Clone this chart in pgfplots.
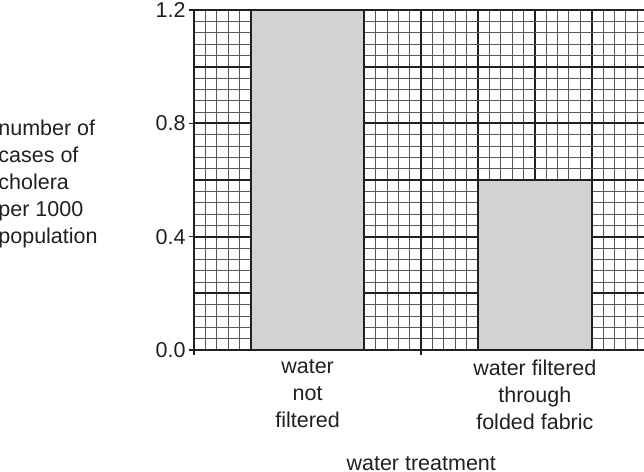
\documentclass[border=0pt]{standalone}
\usepackage{fontspec}
\setmainfont{Liberation Sans}
\usepackage{pgfplots}
\pgfplotsset{compat=1.18}
\definecolor{barfill}{HTML}{D1D2D4}
\definecolor{ink}{HTML}{231F20}
\begin{document}
\begin{tikzpicture}[font=\fontsize{10.75}{13.4}\selectfont]
% page = the cropped reference region (1px = 0.5pt)
\path[use as bounding box] (-97pt,-61pt) rectangle (225pt,175pt);
\begin{axis}[
    at={(0,0)}, anchor=south west,
    width=227.25pt, height=170pt, scale only axis,
    xmin=-0.5, xmax=1.5, ymin=0, ymax=1.2,
    ybar, bar width=0.5,
    xtick={-0.5,-0.25,0,0.25,0.5,0.75,1,1.25,1.5},
    xticklabels={,,{water\\not\\filtered},,,,{water filtered\\through\\folded fabric},,},
    xticklabel style={align=center, text=ink, yshift=-1.5pt},
    ytick={0,0.2,0.4,0.6,0.8,1.0,1.2},
    yticklabels={},
    minor x tick num=4, minor y tick num=4,
    major tick length=0pt, minor tick length=0pt,
    tick pos=left,
    grid=both,
    major grid style={line width=1pt, ink},
    minor grid style={line width=0.5pt, black!65},
    axis line style={line width=1pt, ink},
    extra x ticks={-0.5,0.5,1.5},
    extra x tick labels={},
    extra x tick style={grid=major, major tick length=2.5pt, tick align=outside,
        tick style={line width=0.75pt, ink}},
    extra y ticks={0,0.4,0.8,1.2},
    extra y tick labels={0.0,0.4,0.8,1.2},
    extra y tick style={grid=major, major tick length=2.5pt, tick align=outside,
        tick style={line width=0.75pt, ink}},
    yticklabel style={inner sep=1.5pt, text=ink},
    xlabel={water treatment},
    ylabel={number of\\cases of\\cholera\\per 1000\\population},
    every axis x label/.style={at={(axis description cs:0.5,0)}, anchor=base,
        yshift=-60pt, text=ink},
    every axis y label/.style={at={(axis description cs:0,0)}, anchor=north west,
        align=left, inner sep=0pt, xshift=-98pt, yshift=115pt, text=ink},
]
\addplot[fill=barfill, draw=ink, line width=1pt]
    coordinates {(0,1.2) (1,0.6)};
\end{axis}
\end{tikzpicture}
\end{document}
